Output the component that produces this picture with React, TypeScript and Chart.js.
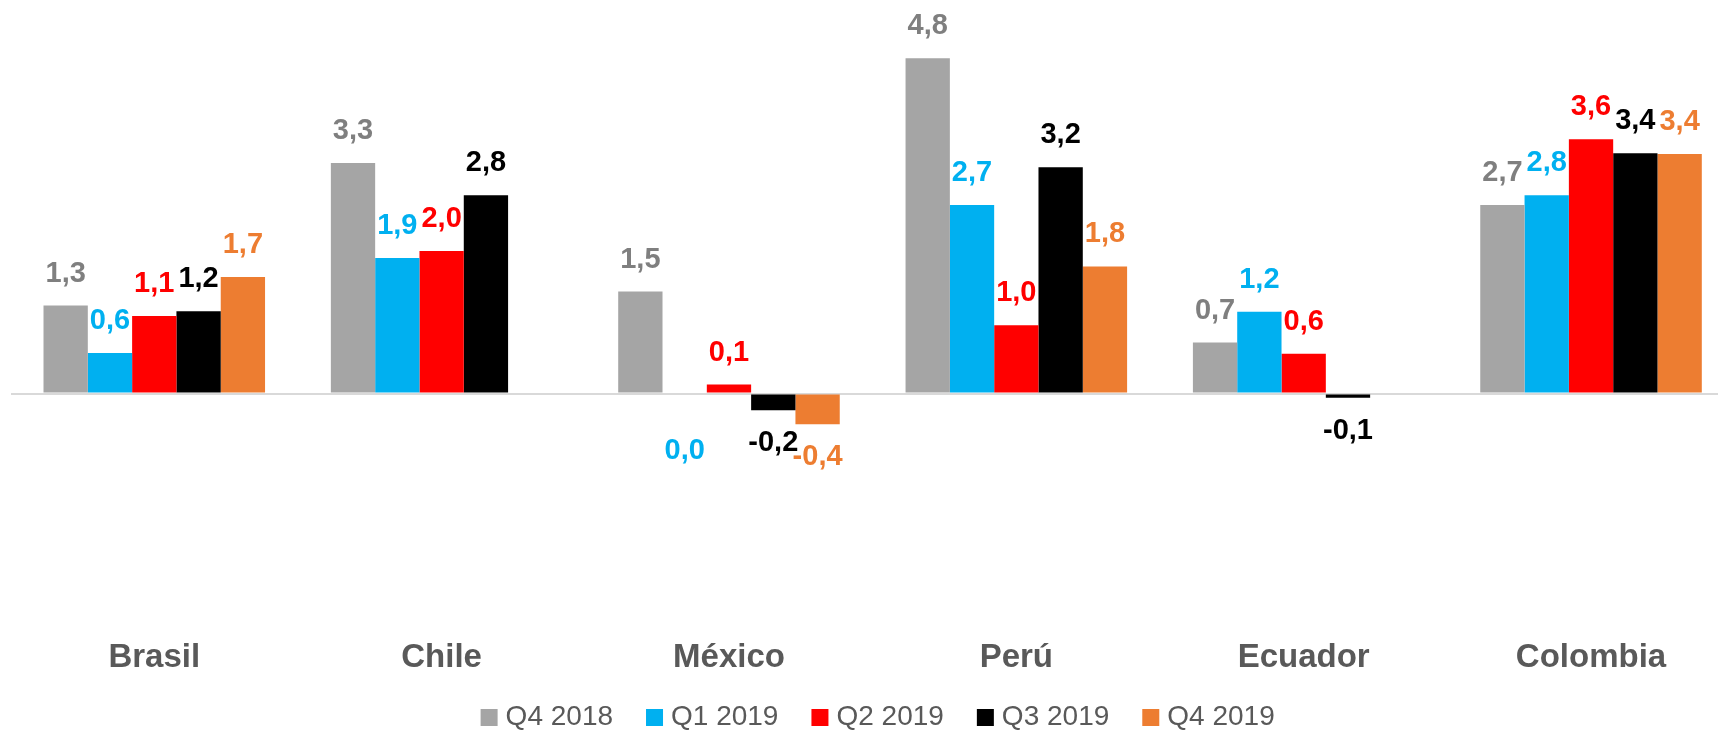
import React, { useEffect, useRef } from "react";
import { Chart, registerables } from "chart.js";

Chart.register(...registerables);

const categories = ["Brasil", "Chile", "México", "Perú", "Ecuador", "Colombia"];
const seriesNames = ["Q4 2018", "Q1 2019", "Q2 2019", "Q3 2019", "Q4 2019"];
const q4_2018 = [1.26, 3.3, 1.46, 4.8, 0.73, 2.7];
const q1_2019 = [0.58, 1.94, 0.0, 2.7, 1.17, 2.84];
const q2_2019 = [1.11, 2.04, 0.13, 0.98, 0.57, 3.64];
const q3_2019 = [1.18, 2.84, -0.24, 3.24, -0.06, 3.44];
const q4_2019 = [1.67, null, -0.44, 1.82, null, 3.43];

const barColors = ["#A5A5A5", "#00B0F0", "#FF0000", "#000000", "#ED7D31"];
const labelColors = ["#7F7F7F", "#00B0F0", "#FF0000", "#000000", "#ED7D31"];

const CANVAS_W = 1740;
const CANVAS_H = 733;

const fmt = (v: number) => (Math.round(v * 10) / 10).toFixed(1).replace(".", ",");

const dataLabelPlugin = {
  id: "dataLabels",
  afterDatasetsDraw(chart: any) {
    const ctx = chart.ctx;
    ctx.save();
    ctx.font = "bold 29px 'Liberation Sans', Arial, sans-serif";
    ctx.textAlign = "center";
    ctx.textBaseline = "middle";
    chart.data.datasets.forEach((ds: any, di: number) => {
      const meta = chart.getDatasetMeta(di);
      meta.data.forEach((el: any, i: number) => {
        const v = ds.data[i];
        if (v === null || v === undefined) return;
        let y: number;
        if (v > 0) y = el.y - 32;
        else if (v < 0) y = el.y + 33;
        else y = el.y + 57;
        ctx.fillStyle = labelColors[di];
        ctx.fillText(fmt(v), el.x, y);
      });
    });
    ctx.restore();
  },
};

const legendPlugin = {
  id: "customLegend",
  afterDraw(chart: any) {
    const ctx = chart.ctx;
    const area = chart.chartArea;
    ctx.save();
    ctx.font = "28px 'Liberation Sans', Arial, sans-serif";
    ctx.textBaseline = "middle";
    ctx.textAlign = "left";
    const box = 17;
    const boxGap = 8;
    const itemGap = 33;
    const widths = seriesNames.map((n) => box + boxGap + ctx.measureText(n).width);
    const total = widths.reduce((a, b) => a + b, 0) + itemGap * (seriesNames.length - 1);
    const center = (area.left + area.right) / 2 + 5;
    let x = center - total / 2;
    const yc = 717.5;
    seriesNames.forEach((n, i) => {
      ctx.fillStyle = barColors[i];
      ctx.fillRect(x, yc - box / 2, box, box);
      ctx.fillStyle = "#595959";
      ctx.fillText(n, x + box + boxGap, yc);
      x += widths[i] + itemGap;
    });
    ctx.restore();
  },
};

export default function App() {
  const ref = useRef<HTMLCanvasElement | null>(null);
  useEffect(() => {
    if (!ref.current) return;
    const seriesData = [q4_2018, q1_2019, q2_2019, q3_2019, q4_2019];
    const chart = new Chart(ref.current, {
      type: "bar",
      data: {
        labels: categories,
        datasets: seriesNames.map((name, i) => ({
          label: name,
          data: seriesData[i],
          backgroundColor: barColors[i],
          borderWidth: 0,
          barPercentage: 1.0,
          categoryPercentage: 0.771,
        })),
      },
      options: {
        responsive: false,
        maintainAspectRatio: false,
        animation: false,
        layout: { padding: { left: 10.6, right: 5.3, top: 45.7, bottom: 54.7 } },
        plugins: {
          legend: { display: false },
          tooltip: { enabled: false },
        },
        scales: {
          x: {
            grid: { display: false, drawTicks: false },
            border: { display: false },
            ticks: {
              padding: 1,
              color: "#595959",
              font: { family: "'Liberation Sans', Arial, sans-serif", size: 33, weight: "bold" },
            },
          },
          y: {
            min: -3.48,
            max: 4.98,
            afterBuildTicks: (scale: any) => {
              scale.ticks = [{ value: 0 }];
            },
            ticks: { display: false },
            border: { display: false },
            grid: {
              drawTicks: false,
              lineWidth: 2,
              color: "#D9D9D9",
            },
          },
        },
      },
      plugins: [dataLabelPlugin, legendPlugin],
    } as any);
    return () => chart.destroy();
  }, []);
  return (
    <div
      style={{
        position: "fixed",
        left: 0,
        top: 0,
        width: 1718,
        height: 733,
        overflow: "hidden",
        background: "#fff",
      }}
    >
      <canvas
        ref={ref}
        width={CANVAS_W}
        height={CANVAS_H}
        style={{ width: CANVAS_W, height: CANVAS_H, display: "block" }}
      />
    </div>
  );
}
